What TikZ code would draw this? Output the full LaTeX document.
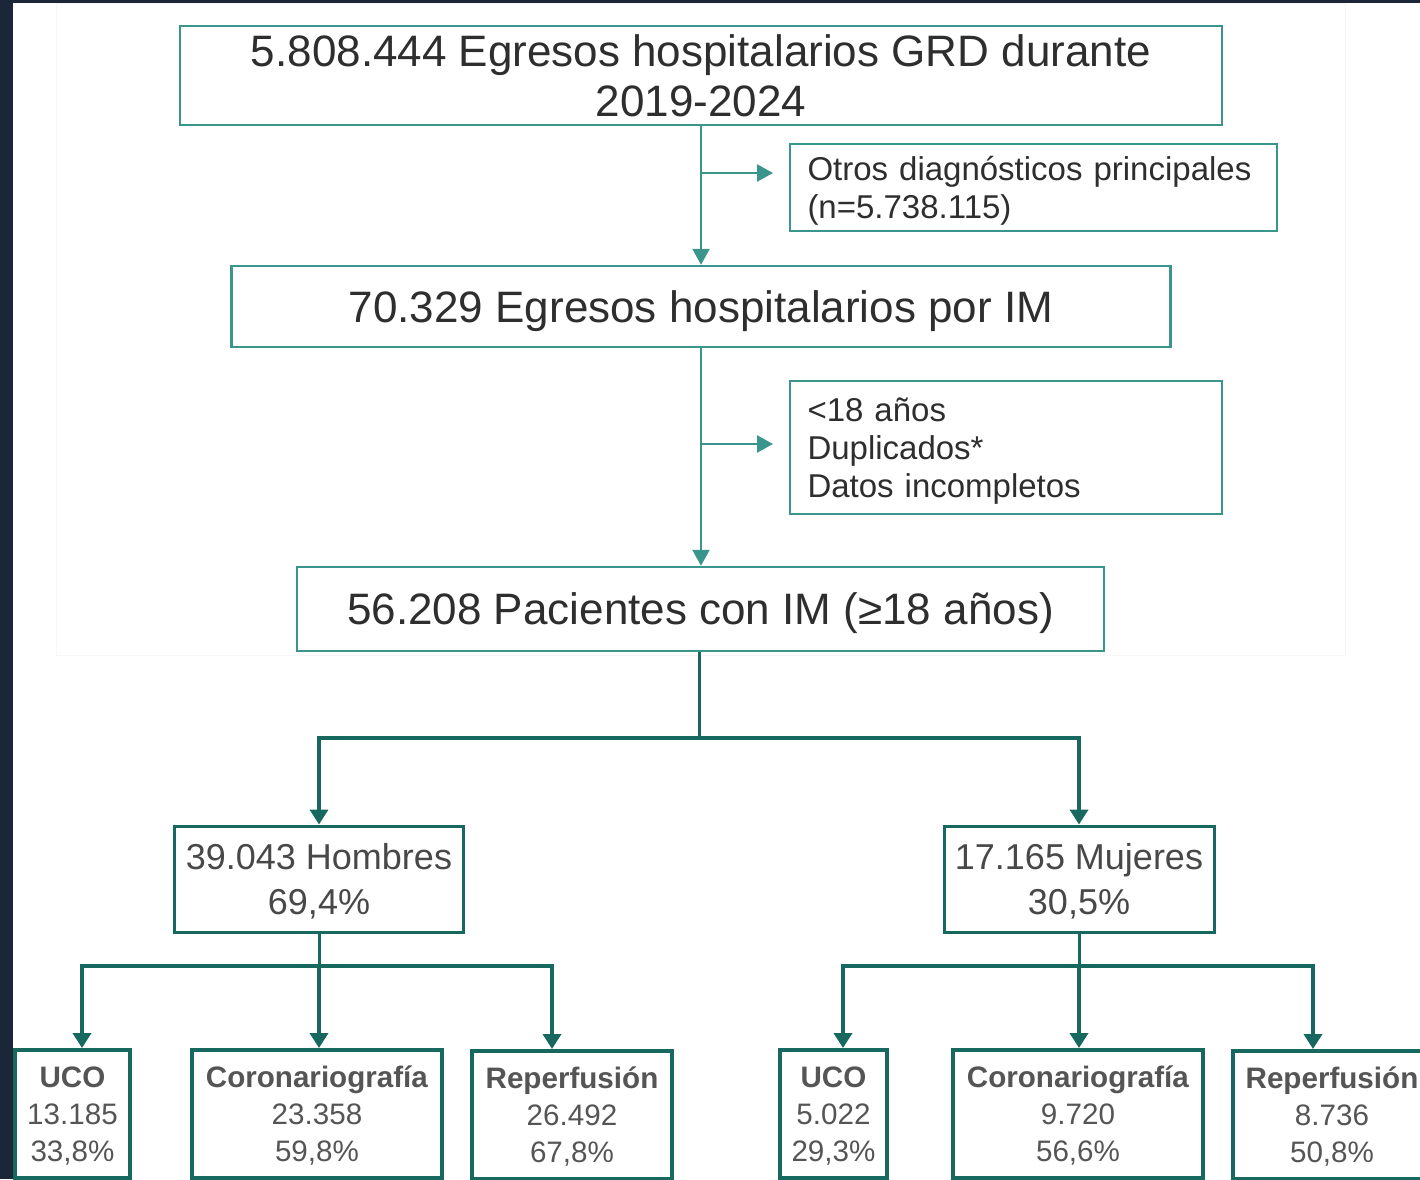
\documentclass[tikz,border=0pt]{standalone}
\usepackage{fontspec}
\setmainfont{Liberation Sans}
\usetikzlibrary{arrows.meta}
\definecolor{navy}{HTML}{1B2639}
\definecolor{tealL}{HTML}{3A968C}
\definecolor{tealD}{HTML}{17695F}
\definecolor{ink}{HTML}{2E2E2E}
\definecolor{inkB}{HTML}{555555}

\begin{document}
\begin{tikzpicture}[
       x=0.5pt, y=-0.5pt,
       box/.style={
         draw=tealL,
         line width=1.25pt,
         text=ink,
         inner sep=0pt,
         align=center
       },
       big/.style={box, font=\fontsize{22}{25}\selectfont},
       side/.style={box, align=left, inner xsep=8.75pt, font=\fontsize{16.5}{19}\selectfont},
       sexo/.style={box, draw=tealD, line width=1.5pt, text=inkB!85!black, text depth=0pt, minimum height=53pt, font=\fontsize{18}{22.5}\selectfont},
       proc/.style={box, draw=tealD, line width=2pt, text=inkB, text depth=0pt, minimum height=64pt, font=\fontsize{14.8}{18.5}\selectfont},
       flecha/.style={draw=tealL, line width=1.25pt, -{Triangle[length=8pt,width=8.5pt]}},
       rama/.style={draw=tealD, line width=2pt, -{Triangle[length=7.5pt,width=9pt]}},
       tronco/.style={draw=tealD, line width=1.5pt}
     ]
\useasboundingbox (0,0) rectangle (1420,1179);
\clip (0,0) rectangle (1420,1179);
\fill[navy] (0,0) rectangle (1420,1179);
\fill[white] (13,3) rectangle (1420,1179);
\draw[black!3, line width=0.5pt] (56,3) rectangle (1345,655);

\node[big, minimum width=521pt, minimum height=49.5pt] (egresos) at (701,75.5) {5.808.444 Egresos hospitalarios GRD durante\\2019-2024};
\node[side, text width=226pt, text depth=19pt, minimum height=43.5pt] (otros) at (1033.5,187.5) {Otros diagnósticos principales\\(n=5.738.115)};
\node[big, text depth=0pt, minimum width=469.5pt, minimum height=40.5pt] (im) at (701,306.5) {70.329 Egresos hospitalarios por IM};
\node[side, text width=198.5pt, text depth=38pt, minimum height=66.5pt] (excl) at (1006,447.5) {<18 años\\Duplicados*\\Datos incompletos};
\node[big, text depth=0pt, minimum width=403.5pt, minimum height=42pt] (pacientes) at (700.5,609) {56.208 Pacientes con IM (≥18 años)};

\node[sexo, minimum width=144.5pt] (hombres) at (319,879) {39.043 Hombres\\69,4\%};
\node[sexo, minimum width=135pt] (mujeres) at (1079,879) {17.165 Mujeres\\30,5\%};

\node[proc, minimum width=57.5pt] (ucoh) at (72.5,1114) {\textbf{UCO}\\13.185\\33,8\%};
\node[proc, minimum width=125pt] (corh) at (317,1114) {\textbf{Coronariografía}\\23.358\\59,8\%};
\node[proc, minimum width=100pt] (reph) at (572,1115) {\textbf{Reperfusión}\\26.492\\67,8\%};
\node[proc, minimum width=53.5pt] (ucom) at (833.5,1114) {\textbf{UCO}\\5.022\\29,3\%};
\node[proc, minimum width=125pt] (corm) at (1078,1114) {\textbf{Coronariografía}\\9.720\\56,6\%};
\node[proc, minimum width=99pt] (repm) at (1332,1115) {\textbf{Reperfusión}\\8.736\\50,8\%};

\coordinate (b1) at (701,173);
\coordinate (b1e) at (773,173);
\coordinate (b2) at (701,444);
\coordinate (b2e) at (773,444);
\coordinate (split) at (699,738);
\coordinate (sh) at (319,966);
\coordinate (sm) at (1079,966);

\draw[flecha] (egresos.south) -- (egresos.south |- im.north);
\draw[flecha] (b1) -- (b1e);
\draw[flecha] (im.south) -- (im.south |- pacientes.north);
\draw[flecha] (b2) -- (b2e);

\draw[tronco] (pacientes.south -| split) -- (split);
\draw[rama] (split) -| (hombres.north);
\draw[rama] (split) -| (mujeres.north);

\draw[tronco] (hombres.south) -- (sh);
\draw[rama] (sh) -| ([xshift=4.75pt]ucoh.north);
\draw[rama] (sh) -- (sh |- corh.north);
\draw[rama] (sh) -| ([xshift=-10pt]reph.north);

\draw[tronco] (mujeres.south) -- (sm);
\draw[rama] (sm) -| ([xshift=4.75pt]ucom.north);
\draw[rama] (sm) -- (sm |- corm.north);
\draw[rama] (sm) -| ([xshift=-9.5pt]repm.north);

\end{tikzpicture}
\end{document}
